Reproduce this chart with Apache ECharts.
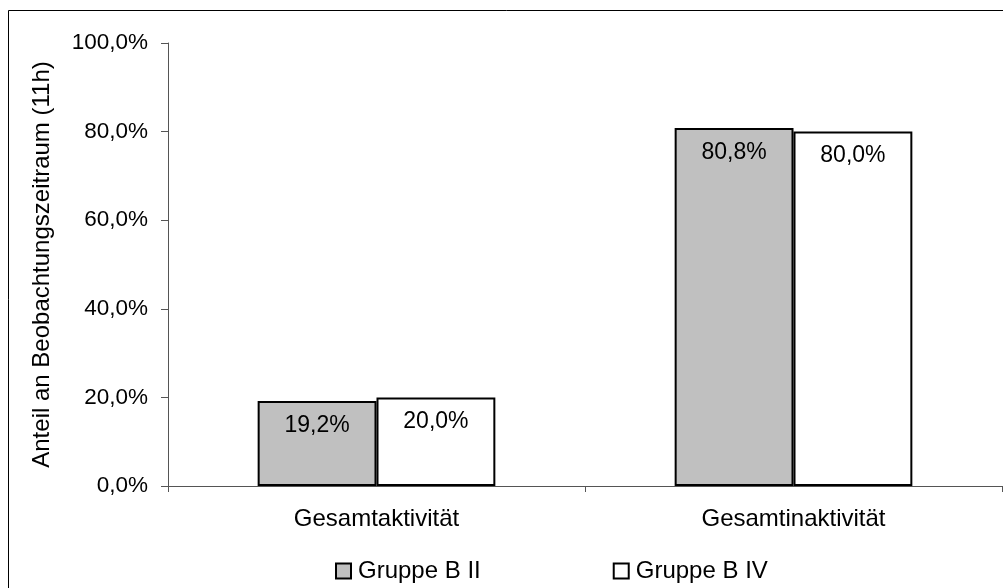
<!DOCTYPE html>
<html>
<head>
<meta charset="utf-8">
<script src="https://cdn.jsdelivr.net/npm/echarts@6/dist/echarts.min.js"></script>
<style>
html,body{margin:0;padding:0;background:#fff;}
#chart{width:1003px;height:588px;}
</style>
</head>
<body>
<div id="chart"></div>
<script>
const categories = ['Gesamtaktivität', 'Gesamtinaktivität'];
const seriesNames = ['Gruppe B II', 'Gruppe B IV'];
const gruppeBII = [19.2, 80.8];
const gruppeBIV = [20.0, 80.0];
const yTicks = [0, 20, 40, 60, 80, 100];

const fmt = v => v.toFixed(1).replace('.', ',') + '%';
const FONT = 'Liberation Sans, Arial, sans-serif';

const chart = echarts.init(document.getElementById('chart'));

const barLabel = {
  show: true,
  position: 'insideTop',
  distance: 13,
  color: '#000',
  fontFamily: FONT,
  fontSize: 23,
  formatter: p => fmt(p.value)
};

chart.setOption({
  animation: false,
  backgroundColor: '#fff',
  graphic: [{
    type: 'rect',
    shape: { x: 8.5, y: 10.5, width: 1010, height: 600 },
    style: { fill: 'none', stroke: '#000', lineWidth: 1 },
    silent: true
  }],
  grid: { left: 168, right: 1, top: 43, bottom: 102, containLabel: false },
  legend: {
    top: 554,
    left: 330,
    itemGap: 132,
    itemWidth: 15,
    itemHeight: 15,
    icon: 'rect',
    textStyle: { fontFamily: FONT, fontSize: 24, color: '#000', padding: [0, 0, 0, 2] },
    data: seriesNames
  },
  xAxis: {
    type: 'category',
    data: categories,
    axisLine: { lineStyle: { color: '#555', width: 1 } },
    axisTick: { show: true, length: 6, lineStyle: { color: '#555' } },
    axisLabel: { fontFamily: FONT, fontSize: 24, color: '#000', margin: 21 }
  },
  yAxis: {
    type: 'value',
    min: yTicks[0],
    max: yTicks[yTicks.length - 1],
    interval: yTicks[1] - yTicks[0],
    name: 'Anteil an Beobachtungszeitraum (11h)',
    nameLocation: 'middle',
    nameGap: 114,
    nameTextStyle: { fontFamily: FONT, fontSize: 24, color: '#000' },
    axisLine: { show: true, lineStyle: { color: '#555', width: 1 } },
    axisTick: { show: true, length: 7, lineStyle: { color: '#555' } },
    axisLabel: { fontFamily: FONT, fontSize: 22.5, color: '#000', margin: 20, formatter: v => fmt(v) },
    splitLine: { show: false }
  },
  series: [
    {
      name: seriesNames[0],
      type: 'bar',
      data: gruppeBII,
      barGap: '0%',
      barCategoryGap: '43%',
      itemStyle: { color: '#c0c0c0', borderColor: '#000', borderWidth: 2 },
      label: barLabel
    },
    {
      name: seriesNames[1],
      type: 'bar',
      data: gruppeBIV,
      barGap: '0%',
      barCategoryGap: '43%',
      itemStyle: { color: '#fff', borderColor: '#000', borderWidth: 2 },
      label: barLabel
    }
  ]
});
</script>
</body>
</html>
